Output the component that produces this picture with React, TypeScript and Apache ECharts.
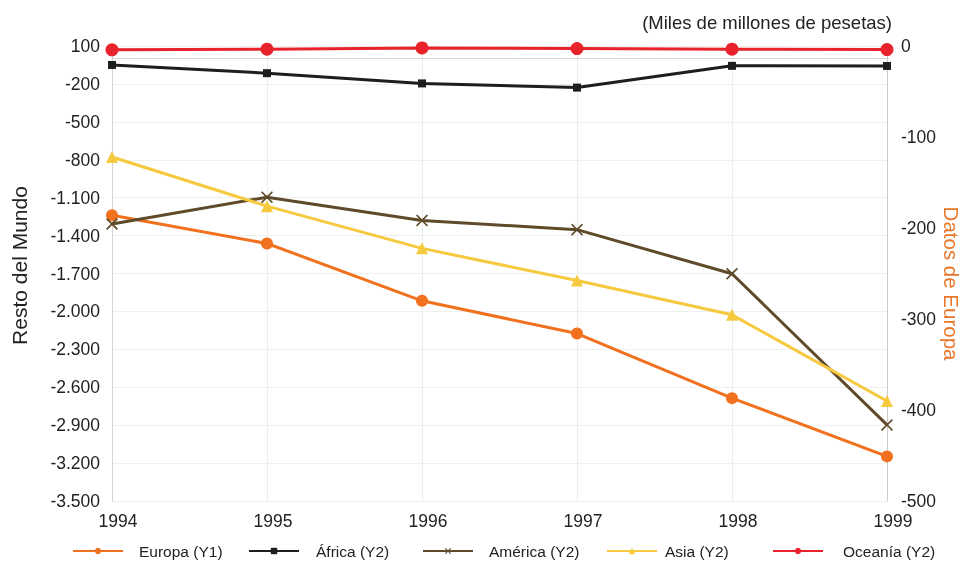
import React, { useEffect, useRef } from "react";
import * as echarts from "echarts";

const years = ["1994", "1995", "1996", "1997", "1998", "1999"];
const europa = [-186, -217, -280, -316, -387, -451];
const africa = [-50, -115, -196, -229, -57, -58];
const america = [-1308, -1096, -1280, -1353, -1702, -2898];
const asia = [-778, -1167, -1501, -1756, -2027, -2709];
const oceania = [70, 75, 85, 80, 75, 72];

const seriesNames = ["Europa (Y1)", "África (Y2)", "América (Y2)", "Asia (Y2)", "Oceanía (Y2)"];
const legendLefts = [72, 248, 422, 606, 772];
const legendTextGaps = [11, 12, 11, 3, 15];

const FONT = '"Liberation Sans", Arial, Helvetica, sans-serif';
const X_MARK = "path://M1,0 L5,4 L9,0 L10,1 L6,5 L10,9 L9,10 L5,6 L1,10 L0,9 L4,5 L0,1 Z";

function fmt(v: number) {
  const s = Math.abs(v).toString().replace(/\B(?=(\d{3})+(?!\d))/g, ".");
  return (v < 0 ? "-" : "") + s;
}

export default function App() {
  const ref = useRef<HTMLDivElement>(null);
  useEffect(() => {
    if (!ref.current) return;
    const chart = echarts.init(ref.current, undefined, { renderer: "svg" });
    const colors = ["#f1711f", "#1e1e1e", "#5f4a2a", "#f6c93e", "#e8232b"];
    const symbols = ["circle", "rect", X_MARK, "triangle", "circle"];
    const sizes = [12, 8, 12, 12, 13];
    const datas = [europa, africa, america, asia, oceania];
    const axisIdx = [1, 0, 0, 0, 0];
    chart.setOption({
      animation: false,
      textStyle: { fontFamily: FONT },
      title: {
        text: "(Miles de millones de pesetas)",
        right: 69,
        top: 8,
        textStyle: { fontSize: 18.5, fontWeight: "normal", color: "#222", fontFamily: FONT },
      },
      legend: seriesNames.map((n, i) => ({
        data: [n],
        left: legendLefts[i],
        top: 543,
        padding: 0,
        itemWidth: 50,
        itemHeight: 8,
        textStyle: {
          fontSize: 15.5,
          color: "#222",
          fontFamily: FONT,
          padding: [0, 0, 0, legendTextGaps[i]],
        },
      })),
      grid: {
        left: 112,
        right: 79,
        top: 46,
        bottom: 60,
        containLabel: false,
        outerBoundsMode: "none",
      },
      xAxis: {
        type: "category",
        data: years,
        boundaryGap: false,
        axisLine: { lineStyle: { color: "#d4d4d4", width: 1 } },
        axisTick: { show: false },
        axisLabel: { fontSize: 17.5, color: "#222", margin: 11, padding: [0, 0, 0, 12] },
        splitLine: { show: true, lineStyle: { color: "#ececec" } },
      },
      yAxis: [
        {
          type: "value",
          min: -3500,
          max: 100,
          interval: 300,
          name: "Resto del Mundo",
          nameLocation: "middle",
          nameGap: 82,
          nameTextStyle: { fontSize: 21, color: "#222", fontFamily: FONT, padding: [0, 0, 0, 16] },
          axisLine: { show: true, lineStyle: { color: "#d4d4d4" } },
          axisTick: { show: false },
          axisLabel: { fontSize: 17.5, color: "#222", margin: 12, formatter: (v: number) => fmt(v) },
          splitLine: { show: true, lineStyle: { color: "#efefef" } },
        },
        {
          type: "value",
          min: -500,
          max: 0,
          interval: 100,
          position: "right",
          name: "Datos de Europa",
          nameLocation: "middle",
          nameRotate: -90,
          nameGap: 54,
          nameMoveOverlap: false,
          nameTextStyle: {
            fontSize: 20.5,
            lineHeight: 21,
            color: "#e8772a",
            fontFamily: FONT,
            padding: [0, 0, 0, 20],
          },
          axisLine: { show: true, lineStyle: { color: "#cccccc" } },
          axisTick: { show: false },
          axisLabel: { fontSize: 17.5, color: "#222", margin: 14, formatter: (v: number) => fmt(v) },
          splitLine: { show: false },
        },
      ],
      series: seriesNames.map((n, i) => ({
        name: n,
        type: "line",
        yAxisIndex: axisIdx[i],
        data: datas[i],
        symbol: symbols[i],
        symbolSize: sizes[i],
        showSymbol: true,
        lineStyle: { color: colors[i], width: 3 },
        itemStyle: { color: colors[i] },
        z: i === 4 ? 5 : 3,
      })),
    });
    return () => chart.dispose();
  }, []);
  return (
    <div
      ref={ref}
      style={{ position: "fixed", left: 0, top: 0, width: 966, height: 561 }}
    />
  );
}
